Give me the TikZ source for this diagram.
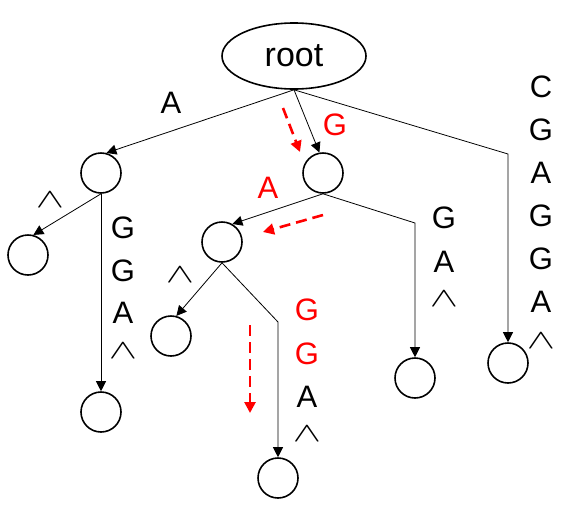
\documentclass[tikz,border=0pt]{standalone}
\usepackage{fontspec}
\setmainfont{Liberation Sans}
\usetikzlibrary{arrows.meta,shapes.geometric}
\newcommand\hatsym{\scalebox{1.7}[1.1]{$\wedge$}}

\begin{document}
\begin{tikzpicture}[x=1pt,y=-1pt,
		vertex/.style={draw,circle,line width=1.6pt,minimum size=40pt,inner sep=0pt},
		branch/.style={line width=0.8pt,-{Triangle[length=10pt,width=10pt]}},
		walk/.style={red,line width=2.6pt,dash pattern=on 11pt off 6pt,-{Triangle[length=11pt,width=11pt]}},
		lbl/.style={font=\fontsize{31}{31}\selectfont,inner sep=0pt},
		hatlbl/.style={font=\fontsize{24.88}{25}\selectfont,inner sep=0pt}]
	\useasboundingbox (0,0) rectangle (577,523);
	\node[draw,ellipse,line width=1.6pt,minimum width=144pt,minimum height=66pt,
		font=\fontsize{34}{34}\selectfont] (root) at (294,56) {root};
	\node[vertex] (nA) at (101,173) {};
	\node[vertex] (nG) at (323,173) {};
	\node[vertex] (nAhat) at (28,255) {};
	\node[vertex] (nAG) at (101,412) {};
	\node[vertex] (nGA) at (222,242) {};
	\node[vertex] (nGAhat) at (171,336) {};
	\node[vertex] (nGAG) at (278,478) {};
	\node[vertex] (nGG) at (415,378) {};
	\node[vertex] (nC) at (508,363) {};
	\coordinate (cC) at (508,154);
	\coordinate (cGG) at (415,223);
	\coordinate (cGAG) at (278,322);

	\draw[branch] (root.south) -- (nA.75);
	\draw[branch] (root.south) -- (nG.100);
	\draw[branch] (root.south) -- (cC) -- (nC);
	\draw[branch] (nA.south) -- (nAhat.75);
	\draw[branch] (nA) -- (nAG);
	\draw[branch] (nG.south) -- (nGA.60);
	\draw[branch] (nG.south) -- (cGG) -- (nGG);
	\draw[branch] (nGA.south) -- (nGAhat.75);
	\draw[branch] (nGA.south) -- (cGAG) -- (nGAG);

	\coordinate (w1s) at (283,108);
	\coordinate (w1e) at (300,152);
	\coordinate (w2s) at (323,215);
	\coordinate (w2e) at (263,232);
	\coordinate (w3s) at (250,325);
	\coordinate (w3e) at (250,413);
	\draw[walk] (w1s) -- (w1e);
	\draw[walk] (w2s) -- (w2e);
	\draw[walk] (w3s) -- (w3e);

	\node[lbl] (lA) at (171,103) {A};
	\node[lbl,red] (lG) at (335,125) {G};
	\node[lbl,red] (lGA) at (268,188) {A};
	\node[hatlbl] (lAhat) at (50,200) {\hatsym};
	\node[hatlbl] (lGAhat) at (180,275) {\hatsym};
	\foreach \ch [count=\i] in {C,G,A,G,G,A}
		\node[lbl] (lC\i) at (541,{87+43*(\i-1)}) {\ch};
	\node[hatlbl] (lChat) at (541,341) {\hatsym};
	\foreach \ch [count=\i] in {G,A}
		\node[lbl] (lGG\i) at (444,{218+44*(\i-1)}) {\ch};
	\node[hatlbl] (lGGhat) at (444,299) {\hatsym};
	\foreach \ch [count=\i] in {G,G,A}
		\node[lbl] (lAG\i) at (123,{228+42.5*(\i-1)}) {\ch};
	\node[hatlbl] (lAGhat) at (123,351) {\hatsym};
	\foreach \ch/\col [count=\i] in {G/red,G/red,A/black}
		\node[lbl,\col] (lGAG\i) at (307,{310+43.5*(\i-1)}) {\ch};
	\node[hatlbl] (lGAGhat) at (307,434) {\hatsym};
\end{tikzpicture}
\end{document}
